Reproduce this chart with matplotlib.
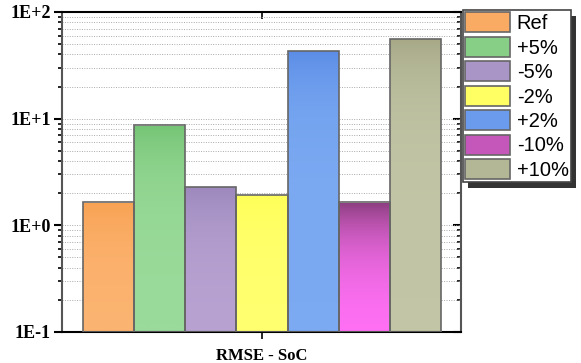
import numpy as np
import matplotlib
matplotlib.use("Agg")
import matplotlib.pyplot as plt
from matplotlib.colors import LinearSegmentedColormap, to_rgb
from matplotlib.patches import Patch, Rectangle

labels = ["Ref", "+5%", "-5%", "-2%", "+2%", "-10%", "+10%"]
values = [1.64, 8.65, 2.29, 1.94, 43.5, 1.64, 56.0]
# top colour, bottom colour of each bar's gradient
top_colors = ["#F8A253", "#74C474", "#9C88BC", "#FFFF58", "#5A8CE6", "#8A3E7E", "#A6A886"]
bot_colors = ["#FCB472", "#9ADA9A", "#B8A2D2", "#FFFF70", "#7CAAF2", "#FF70F4", "#C2C6A6"]
group_label = "RMSE - SoC"

ymin, ymax = 0.1, 100

fig = plt.figure(figsize=(5.81, 3.63), dpi=100)
ax = fig.add_axes([62/581, 1 - 332/363, 399/581, 320/363])
ax.set_yscale("log")

width = 1.0
x = np.arange(len(values)) - (len(values) - 1) / 2
xlim = (x[0] - width/2 - 0.41, x[-1] + width/2 + 0.39)

bars = ax.bar(x, np.array(values) - ymin, width=width, bottom=ymin, color="none",
              edgecolor="#666666", linewidth=1.2, zorder=3)
grad = np.linspace(0, 1, 256).reshape(-1, 1)
for b, v, c1, c2 in zip(bars, values, top_colors, bot_colors):
    cmap = LinearSegmentedColormap.from_list("g", [c1, c2])
    x0 = b.get_x()
    im = ax.imshow(grad, cmap=cmap, aspect="auto", origin="upper",
                   extent=[x0, x0 + b.get_width(), ymin, v], zorder=2)
    im.set_clip_path(b)
ax.set_xlim(*xlim)
ax.set_ylim(ymin, ymax)

ax.yaxis.grid(True, which="both", linestyle=(0, (1, 1.5)), color="#AAAAAA",
              linewidth=0.7, zorder=0)
ax.set_axisbelow(True)

ax.set_yticks([0.1, 1, 10, 100])
ax.set_yticklabels(["1E-1", "1E+0", "1E+1", "1E+2"],
                   fontfamily="Liberation Serif", fontweight="bold", fontsize=13)
ax.set_xticks([0])
ax.set_xticklabels([""])
ax.tick_params(axis="y", which="major", direction="out", length=6, width=1.5, pad=2)
ax.tick_params(axis="y", which="minor", direction="out", length=3, width=1.2)
ax.tick_params(axis="x", which="major", direction="out", length=5, width=1.2)
ax.set_xlabel(group_label, fontfamily="Liberation Serif", fontweight="bold",
              fontsize=12, labelpad=3)
for s in ["top", "bottom"]:
    ax.spines[s].set_linewidth(1.5)
for s in ["left", "right"]:
    ax.spines[s].set_linewidth(1.5)
    ax.spines[s].set_color("#555555")

# right and top ticks point inwards
axr = ax.secondary_yaxis("right")
axr.set_yticks([0.1, 1, 10, 100])
axr.tick_params(which="major", direction="in", length=6, width=1.5, labelright=False)
axr.tick_params(which="minor", direction="in", length=3, width=1.2)
axr.set_yticklabels([])
axr.yaxis.set_minor_formatter(plt.NullFormatter())
axr.spines["right"].set_visible(False)
axt = ax.secondary_xaxis("top")
axt.set_xticks([0])
axt.set_xticklabels([""])
axt.tick_params(direction="in", length=5, width=1.2)
axt.spines["top"].set_visible(False)

handles = [Patch(facecolor=(np.array(to_rgb(a)) + np.array(to_rgb(b))) / 2,
                 edgecolor="#666666", linewidth=1.2)
           for a, b in zip(top_colors, bot_colors)]
leg = fig.legend(handles, labels, loc="upper left",
                 bbox_to_anchor=(463/581, 1 - 10/363),
                 prop={"family": "Liberation Sans", "size": 14.5},
                 frameon=True, fancybox=False, framealpha=1,
                 handlelength=2.2, handleheight=1.15, handletextpad=0.35,
                 labelspacing=0.18, borderpad=0.12, borderaxespad=0)
leg.get_frame().set_edgecolor("#444444")
leg.get_frame().set_linewidth(1.2)
leg.set_zorder(10)

# drop shadow behind the legend
fig.canvas.draw()
bb = leg.get_window_extent()
fig.patches.append(Rectangle((bb.x0 + 5, bb.y0 - 6), bb.width, bb.height,
                             transform=None, facecolor="#333333",
                             edgecolor="none", zorder=9))

fig.savefig("out.png", dpi=100)
